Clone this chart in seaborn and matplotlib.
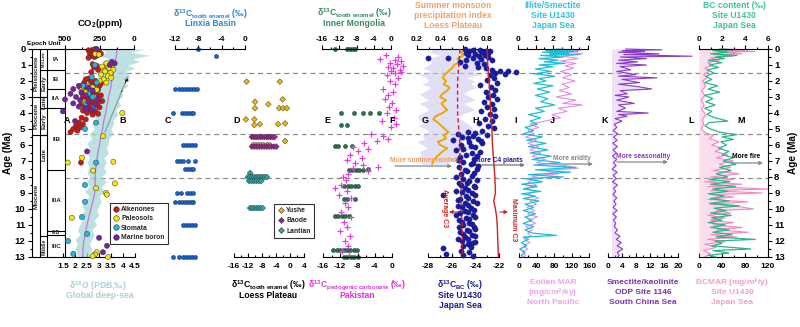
import numpy as np
import pandas as pd
import matplotlib
matplotlib.use('Agg')
import matplotlib.pyplot as plt
from matplotlib.lines import Line2D
import seaborn as sns

# ----------------------------------------------------------------- data
# Panel A: CO2 proxies (age Ma, CO2 ppm)
alkenones = [(0.0,280),(0.05,300),(0.08,330),(0.1,270),(0.15,320),(0.18,300),(0.2,250),(0.25,290),(0.28,320),
             (0.3,240),(0.35,310),(0.4,265),(0.45,300),(0.5,285),(0.55,330),(0.95,300),(1.05,270),(1.15,290),
             (1.3,260),(1.45,310),(1.85,330),(1.9,350),(2.0,280),(2.05,310),(2.1,360),(2.15,240),(2.2,300),
             (2.25,370),(2.3,250),(2.35,290),(2.4,390),(2.45,350),(2.5,330),(2.55,260),(2.6,280),(2.65,320),
             (2.7,350),(2.75,380),(2.8,300),(2.85,270),(2.9,240),(2.95,330),(3.0,370),(3.05,320),(3.1,280),
             (3.15,360),(3.2,340),(3.25,230),(3.3,300),(3.35,260),(3.4,380),(3.45,300),(3.5,320),(3.55,360),
             (3.6,290),(3.65,250),(3.7,350),(3.75,330),(3.8,310),(3.85,370),(3.9,280),(3.95,300),(4.0,340),
             (4.05,260),(4.1,300),(4.3,380),(4.4,350),(4.6,400),(4.7,370),(4.8,420),(4.9,390),(5.0,440),
             (5.1,410),(5.2,460),(7.1,384),(12.85,285)]
paleosols = [(0.3,280),(0.35,255),(0.9,200),(1.0,160),(1.1,230),(1.15,190),(1.2,180),(1.3,150),(1.35,215),
             (1.4,210),(1.5,170),(1.6,240),(1.7,190),(1.8,165),(1.9,220),(2.0,250),(2.1,200),(2.3,330),
             (2.4,300),(2.5,380),(2.55,270),(2.7,350),(3.0,290),(3.3,360),(4.0,85),(5.45,225),(6.8,377),
             (7.1,480),(7.05,150),(7.6,297),(8.4,138),(8.7,275),(9.0,203),(9.1,196),(10.55,450),(12.7,270),
             (12.85,283),(12.95,300),(13.0,188)]
stomata = [(1.0,283),(1.75,305),(2.1,270),(2.3,370),(2.6,310),(2.8,330),(3.0,300),(3.4,350),(3.6,290),
           (4.6,275),(5.0,355),(7.1,275),(8.5,355),(9.55,355),(10.5,377),(11.56,340),(12.0,478),(12.8,440)]
marine_boron = [(0.0,270),(0.8,160),(0.9,140),(1.0,175),(2.3,400),(2.4,330),(2.5,440),(2.6,300),(2.7,380),
                (2.8,460),(2.9,350),(3.0,420),(3.1,260),(3.15,500),(3.2,390),(3.3,330),(3.4,440),(3.5,280),
                (3.6,400),(3.7,350),(3.8,310),(3.9,515),(4.5,427),(6.4,340),(11.8,253),(12.3,196),(12.7,225)]

# Panel B: global deep-sea d18O (age, smoothed value)
d18o_line = [(0,3.75),(0.5,3.72),(1,3.64),(1.5,3.6),(2,3.53),(2.5,3.48),(3,3.4),(3.5,3.34),(4,3.28),(4.5,3.2),
             (5,3.15),(5.5,3.08),(6,3.02),(6.5,2.95),(7,2.91),(7.5,2.86),(8,2.84),(8.5,2.84),(9,2.82),
             (9.5,2.75),(10,2.66),(10.5,2.58),(11,2.5),(11.5,2.43),(12,2.37),(12.5,2.33),(13,2.32)]
# raw d18O envelope (age, low, high)
d18o_env = [(0.0,3.1,4.9),(0.2,3.3,4.3),(0.4,3.0,5.1),(0.6,3.4,4.4),(0.8,3.1,4.7),(1.0,3.3,4.2),(1.2,3.0,4.5),
            (1.4,3.3,4.1),(1.7,3.1,4.3),(2.0,3.2,4.0),(2.3,2.9,4.2),(2.6,3.1,3.9),(2.9,2.9,4.0),(3.2,3.0,3.8),
            (3.5,2.8,3.9),(3.8,2.9,3.7),(4.1,2.7,3.8),(4.4,2.9,3.6),(4.7,2.7,3.6),(5.0,2.8,3.5),(5.3,2.6,3.6),
            (5.6,2.7,3.4),(5.9,2.5,3.4),(6.2,2.6,3.3),(6.5,2.5,3.4),(6.8,2.6,3.2),(7.1,2.5,3.3),(7.4,2.6,3.2),
            (7.7,2.5,3.3),(8.0,2.6,3.1),(8.3,2.5,3.3),(8.6,2.6,3.1),(8.9,2.4,3.2),(9.2,2.6,3.0),(9.5,2.4,3.1),
            (9.8,2.3,3.0),(10.1,2.4,2.9),(10.4,2.2,3.0),(10.7,2.3,2.8),(11.0,2.2,2.9),(11.3,2.1,2.7),
            (11.6,2.2,2.8),(11.9,2.0,2.7),(12.2,2.1,2.6),(12.5,2.0,2.7),(12.8,2.1,2.6),(13.0,2.1,2.6)]

# Panel C: Linxia Basin tooth enamel d13C (age, value)
linxia = [(0.0,-8.1),(0.45,-5.0),
          (2.5,-12.0),(2.5,-11.4),(2.5,-10.8),(2.5,-10.3),(2.5,-9.8),(2.5,-9.3),(2.5,-8.8),(2.5,-8.3),
          (4.0,-12.3),(4.0,-10.8),(4.0,-10.3),(4.0,-9.8),(4.0,-9.3),(4.0,-8.9),
          (6.0,-10.6),(6.0,-10.1),(6.0,-9.6),(6.0,-9.1),(6.0,-8.6),
          (7.0,-11.7),(7.0,-11.2),(7.0,-10.7),(7.0,-9.7),(7.0,-8.6),
          (7.5,-10.3),(7.5,-9.8),(7.5,-9.3),(7.5,-8.9),
          (9.0,-11.7),(9.0,-11.0),(9.0,-10.0),(9.0,-9.5),(9.0,-9.0),
          (9.55,-12.0),(9.55,-11.4),(9.55,-10.8),(9.55,-10.3),(9.55,-9.8),(9.55,-9.3),(9.55,-8.9),
          (11.0,-10.6),(11.0,-10.1),(11.0,-9.6),(11.0,-9.1),(11.0,-8.6),
          (13.0,-12.3),(13.0,-11.3),(13.0,-10.6),(13.0,-10.1),(13.0,-9.6),(13.0,-9.1),(13.0,-8.6)]

# Panel D: Loess Plateau tooth enamel d13C (age, value)
yushe = [(2.04,-12.4),(2.04,-2.9),(3.15,-2.1),(3.3,-10.0),(3.7,-10.0),(3.45,-6.2),(3.7,-3.1),(3.7,-2.0),
         (3.7,-0.9),(4.4,-12.6),(4.4,-10.2),(4.75,-10.2),(4.7,-8.6),(4.7,-3.4),(4.65,-1.4),(5.75,-1.4),
         (6.0,-10.5),(6.0,-9.8),(6.0,-9.0),(6.0,-8.2),(6.0,-7.5),(6.0,-6.5),(6.0,-5.8)]
baode = [(5.5,-10.9),(5.5,-10.3),(5.5,-9.7),(5.5,-9.1),(5.5,-8.5),(5.5,-7.9),(5.5,-7.3),(5.5,-6.7),(5.5,-6.1),
         (5.5,-5.5),(5.5,-4.9),(5.5,-4.4),(6.1,-10.9),(6.1,-10.2),(6.1,-9.5),(6.1,-8.8),(6.1,-8.1),(6.1,-7.4),
         (6.1,-6.7),(6.1,-6.0),(6.1,-5.3),(6.1,-4.6),(6.1,-3.9)]
lantian = [(7.75,-11.4),(8.0,-12.0),(8.0,-11.4),(8.0,-10.8),(8.0,-10.2),(8.0,-9.6),(8.0,-9.0),(8.0,-8.4),
           (8.0,-7.8),(8.0,-7.2),(8.0,-6.6),(8.25,-11.7),(8.25,-11.0),(8.25,-10.3),(8.25,-9.6),(8.25,-8.9),
           (8.25,-8.2),(9.94,-11.4),(9.94,-10.8),(9.94,-10.2),(9.94,-9.6),(9.94,-9.0),(9.94,-8.4),(9.94,-7.8)]

# Panel E: Inner Mongolia tooth enamel d13C (age, value)
inner_mongolia = [(0.0,-13.0),(0.0,-10.2),(0.0,-9.5),(0.0,-8.9),(0.0,-8.3),
                  (4.0,-11.6),(4.0,-8.6),(4.0,-6.5),(4.0,-4.9),(4.0,-2.8),(4.75,-11.6),(4.75,-10.2),
                  (6.06,-13.0),(6.06,-12.2),(6.06,-10.7),(6.06,-9.0),
                  (7.56,-9.8),(7.56,-9.0),(7.56,-8.2),(7.56,-7.4),(7.56,-6.6),(7.5,-5.3),
                  (8.56,-10.8),(8.56,-10.0),(8.56,-9.2),(8.56,-8.4),(8.56,-7.6),
                  (9.35,-10.8),(9.35,-10.1),(9.35,-8.3),
                  (10.44,-13.0),(10.44,-12.2),(10.44,-11.4),(10.44,-10.6),(10.44,-9.7),
                  (12.56,-13.4),(12.56,-12.6),(12.56,-11.8),(12.56,-11.0),(12.56,-10.2),(12.56,-9.4),
                  (12.56,-8.6),(12.56,-8.0),(13.0,-10.9),(13.0,-10.1),(13.0,-9.3),(13.0,-8.5),(13.0,-7.6)]

# Panel F: Pakistan pedogenic carbonate d13C (age, value)
pakistan = [(0.4,-1.5),(0.5,1.5),(0.6,-2.8),(0.7,0.7),(0.75,2.0),(0.85,-0.5),(0.95,1.2),(1.05,2.6),(1.1,-0.9),
            (1.2,0.3),(1.3,1.8),(1.35,-0.2),(1.45,2.2),(1.5,0.8),(1.6,-1.2),(1.8,1.5),(2.0,-0.5),(2.2,0.6),
            (2.5,-2.0),(2.7,0.2),(2.9,-1.0),(3.1,-1.6),(3.4,0.1),(3.6,-0.6),(3.8,1.0),(4.0,-1.1),(4.3,0.4),
            (4.5,-2.4),(4.7,1.0),(4.9,-0.3),(5.3,-4.9),(5.45,-2.0),(5.6,-0.9),(5.75,-3.5),(5.9,-6.5),(6.1,-9.0),
            (6.25,-5.6),(6.4,-8.0),(6.6,-9.7),(6.8,-7.0),(6.95,-10.4),(7.1,-8.5),(7.25,-6.7),(7.35,-3.3),
            (7.45,-9.0),(7.6,-5.5),(7.8,-10.3),(8.0,-11.4),(8.2,-10.6),(8.5,-11.8),(8.7,-13.2),(8.9,-10.5),
            (9.1,-12.4),(9.3,-9.5),(9.6,-11.0),(9.9,-10.2),(10.2,-11.8),(10.5,-9.6),(10.8,-11.2),(11.1,-10.4),
            (11.4,-12.0),(11.7,-9.8),(12.0,-11.0),(12.3,-10.3),(12.6,-11.6),(12.9,-10.0)]

# Panel G: summer monsoon precipitation index (age, smoothed, raw low, raw high)
monsoon = [(0.0,0.62,0.35,0.85),(0.2,0.58,0.30,0.80),(0.4,0.60,0.40,0.88),(0.6,0.55,0.28,0.75),
           (0.8,0.57,0.33,0.82),(1.0,0.52,0.30,0.72),(1.2,0.50,0.25,0.78),(1.4,0.47,0.32,0.68),
           (1.6,0.44,0.22,0.74),(1.8,0.42,0.28,0.62),(2.0,0.45,0.30,0.70),(2.2,0.43,0.24,0.66),
           (2.4,0.48,0.32,0.72),(2.6,0.46,0.28,0.64),(2.8,0.42,0.22,0.60),(3.0,0.40,0.26,0.66),
           (3.2,0.45,0.30,0.70),(3.4,0.41,0.22,0.60),(3.6,0.43,0.27,0.65),(3.8,0.46,0.30,0.70),
           (4.0,0.42,0.25,0.62),(4.2,0.36,0.20,0.55),(4.4,0.34,0.22,0.58),(4.6,0.38,0.26,0.62),
           (4.8,0.41,0.21,0.66),(5.0,0.44,0.28,0.68),(5.2,0.47,0.30,0.70),(5.4,0.43,0.24,0.62),
           (5.6,0.45,0.27,0.66),(5.8,0.38,0.20,0.58),(6.0,0.40,0.25,0.62),(6.2,0.46,0.29,0.68),
           (6.4,0.42,0.22,0.60),(6.6,0.39,0.24,0.58),(6.8,0.36,0.20,0.55),(7.0,0.34,0.22,0.50),
           (7.2,0.33,0.25,0.45)]

# Panel H: black carbon d13C, Site U1430 (age, value)
bc_d13c = [(0.02,-24.9),(0.05,-24.2),(0.08,-23.6),(0.1,-23.1),(0.12,-22.8),(0.15,-24.5),(0.18,-23.4),(0.22,-22.9),
           (0.26,-24.8),(0.3,-24.0),(0.35,-23.2),(0.4,-24.6),(0.45,-23.7),(0.5,-22.9),(0.55,-24.2),(0.58,-28.0),
           (0.58,-26.3),(0.62,-23.5),(0.66,-22.6),(0.7,-24.8),(0.8,-25.3),(0.85,-23.9),(0.95,-23.3),(1.05,-24.9),
           (1.1,-23.8),(1.2,-23.1),(1.3,-22.6),(1.35,-21.9),(1.4,-21.2),(1.45,-20.6),(1.5,-22.3),(1.55,-21.5),
           (1.65,-22.8),(1.8,-22.4),(1.95,-23.0),(2.1,-22.2),(2.25,-23.6),(2.4,-22.7),(2.55,-22.3),(2.7,-23.1),
           (2.85,-22.5),(3.0,-22.9),(3.15,-22.2),(3.3,-23.3),(3.45,-22.6),(3.6,-23.0),(3.75,-22.4),(3.9,-23.5),
           (4.05,-22.8),(4.2,-22.3),(4.35,-23.2),(4.5,-22.6),(4.65,-23.7),(4.8,-22.9),(4.95,-22.4),(5.1,-23.4),
           (5.2,-24.6),(5.3,-25.5),(5.35,-23.0),(5.45,-24.2),(5.5,-25.1),(5.6,-23.8),(5.7,-25.9),(5.8,-24.5),
           (5.9,-23.4),(6.0,-25.2),(6.15,-24.0),(6.3,-25.6),(6.45,-23.6),(6.6,-24.8),(6.75,-25.3),(6.9,-24.1),
           (7.05,-25.0),(7.2,-24.4),(7.35,-25.4),(7.5,-23.9),(7.65,-24.7),(7.8,-25.2),(7.95,-24.3),(8.1,-25.0),
           (8.25,-24.5),(8.4,-25.4),(8.55,-24.1),(8.7,-24.9),(8.85,-25.6),(9.0,-24.3),(9.1,-26.7),(9.2,-24.8),
           (9.35,-25.3),(9.5,-24.2),(9.65,-24.9),(9.8,-25.5),(9.95,-24.4),(10.1,-24.9),(10.25,-25.3),(10.4,-24.2),
           (10.55,-24.8),(10.7,-25.4),(10.85,-24.5),(11.0,-25.0),(11.15,-24.1),(11.3,-24.7),(11.45,-25.3),
           (11.6,-24.3),(11.75,-24.9),(11.9,-25.5),(12.05,-24.0),(12.2,-24.6),(12.45,-26.7),(12.6,-25.2),
           (12.7,-24.5),(12.8,-26.5),(12.9,-25.0),(12.95,-24.2),
           (5.25,-24.0),(5.55,-24.6),(5.75,-23.5),(6.05,-24.4),(6.25,-25.0),(6.5,-24.3),(6.7,-23.9),(6.95,-25.5),
           (7.1,-24.2),(7.3,-23.8),(7.55,-24.9),(7.75,-24.1),(8.0,-25.6),(8.2,-23.9),(8.35,-24.7),(8.5,-25.2),
           (8.65,-24.0),(8.8,-24.6),(8.95,-25.1),(9.15,-24.0),(9.3,-24.6),(9.45,-25.5),(9.6,-23.9),(9.75,-24.6),
           (9.9,-25.1),(10.05,-24.1),(10.2,-24.6),(10.35,-25.6),(10.5,-24.0),(10.65,-24.5),(10.8,-25.1),
           (10.95,-24.3),(11.1,-25.4),(11.25,-24.0),(11.4,-24.5),(11.55,-25.0),(11.7,-24.0),(11.85,-24.6),
           (12.0,-25.1),(12.15,-24.3),(12.3,-25.0),(12.35,-24.4)]
average_c3 = [(0,-25.3),(1,-25.4),(2,-25.5),(3,-25.5),(4,-25.5),(5,-25.4),(6,-25.3),(7,-25.3),(8,-25.2),
              (9,-25.2),(10,-25.2),(11,-25.1),(12,-25.1),(13,-25.1)]
maximum_c3 = [(0,-23.0),(1,-22.95),(2,-22.85),(3,-22.75),(4,-22.7),(5,-22.6),(6,-22.55),(7,-22.45),(8,-22.35),
              (9,-22.3),(9.5,-22.45),(10,-22.3),(10.5,-22.2),(11,-22.15),(12,-22.1),(13,-22.05)]

# Panel I: illite/smectite, Site U1430 (age, ratio)
illite_smectite = [(0.0,2.2),(0.05,3.2),(0.1,1.6),(0.15,3.4),(0.2,1.4),(0.25,2.9),(0.3,1.8),(0.35,3.5),(0.4,1.3),
                   (0.5,2.6),(0.6,1.2),(0.7,2.3),(0.8,1.5),(0.9,2.7),(1.0,1.2),(1.1,2.0),(1.25,1.0),(1.4,1.9),
                   (1.55,0.9),(1.7,2.1),(1.85,1.2),(2.0,1.6),(2.15,0.9),(2.3,2.0),(2.5,1.1),(2.7,1.8),(2.9,1.0),
                   (3.1,1.7),(3.3,1.3),(3.5,2.1),(3.7,1.0),(3.9,1.5),(4.1,0.6),(4.3,1.3),(4.5,0.7),(4.7,1.1),
                   (4.9,0.4),(5.1,0.9),(5.3,0.3),(5.5,1.4),(5.7,0.5),(5.9,1.6),(6.1,0.6),(6.3,1.7),(6.5,0.7),
                   (6.7,1.9),(6.9,0.8),(7.1,2.4),(7.25,0.9),(7.4,3.3),(7.55,1.0),(7.7,3.0),(7.85,0.6),(8.0,2.6),
                   (8.1,0.4),(8.3,1.4),(8.45,0.2),(8.6,1.1),(8.75,0.3),(8.9,1.3),(9.05,0.2),(9.2,1.0),(9.35,0.3),
                   (9.5,1.2),(9.7,0.4),(9.9,0.9),(10.1,0.3),(10.3,1.0),(10.5,0.4),(10.7,0.8),(10.9,0.3),(11.1,0.9),
                   (11.3,0.4),(11.5,0.8),(11.65,2.2),(11.75,0.3),(11.9,0.6),(12.1,0.2),(12.3,0.5),(12.5,0.1),
                   (12.7,0.4),(12.9,0.2),(13.0,0.3)]

# Panel J: eolian MAR, North Pacific (age, mg/cm2/ky)
eolian_mar = [(0.0,120),(0.1,140),(0.2,110),(0.3,145),(0.45,100),(0.6,135),(0.75,95),(0.9,130),(1.05,105),
              (1.2,125),(1.4,95),(1.6,120),(1.8,100),(2.0,128),(2.2,98),(2.4,115),(2.6,92),(2.8,120),(3.0,85),
              (3.2,130),(3.4,100),(3.5,145),(3.7,90),(3.9,110),(4.1,75),(4.3,95),(4.5,60),(4.7,25),(4.9,45),
              (5.1,20),(5.3,35),(5.5,15),(5.7,40),(5.9,20),(6.1,45),(6.3,25),(6.5,50),(6.7,30),(6.9,60),(7.1,40),
              (7.3,110),(7.45,135),(7.6,60),(7.8,90),(7.95,30),(8.1,45),(8.3,20),(8.5,40),(8.7,15),(8.9,35),
              (9.1,20),(9.3,45),(9.5,25),(9.7,40),(9.9,18),(10.1,35),(10.3,20),(10.5,42),(10.7,22),(10.9,38),
              (11.1,15),(11.3,30),(11.5,20),(11.7,28),(11.9,12),(12.1,25),(12.3,10),(12.5,20),(12.7,8),
              (12.9,15),(13.0,12)]

# Panel K: smectite/kaolinite, ODP 1146 (age, ratio)
smectite_kaolinite = [(0.0,5.0),(0.05,15.4),(0.1,4.0),(0.15,10.5),(0.2,3.0),(0.3,14.6),(0.35,4.5),(0.45,24.0),
                      (0.5,3.5),(0.6,11.0),(0.7,3.0),(0.8,8.5),(0.9,2.5),(1.0,11.0),(1.1,3.5),(1.3,6.5),(1.4,2.5),
                      (1.6,8.0),(1.7,3.0),(1.8,14.0),(1.9,4.0),(2.1,9.0),(2.2,3.0),(2.35,8.5),(2.5,12.5),(2.6,3.5),
                      (2.8,5.5),(2.9,2.0),(3.0,6.0),(3.2,2.5),(3.4,7.5),(3.5,3.0),(3.7,5.0),(3.9,2.5),(4.0,11.5),
                      (4.1,3.0),(4.2,5.5),(4.35,2.0),(4.5,4.0),(4.7,1.8),(4.9,2.5),(5.1,1.5),(5.3,2.8),(5.5,1.6),
                      (5.7,2.6),(5.9,1.4),(6.1,2.7),(6.3,1.5),(6.5,2.4),(6.7,1.3),(6.9,2.5),(7.1,1.6),(7.3,2.3),
                      (7.5,1.2),(7.7,2.6),(7.9,1.5),(8.1,2.4),(8.3,1.3),(8.5,2.7),(8.7,1.6),(8.9,2.2),(9.1,1.4),
                      (9.3,2.5),(9.5,1.7),(9.7,2.3),(9.9,1.5),(10.1,2.6),(10.3,1.4),(10.5,2.4),(10.7,1.6),
                      (10.9,2.2),(11.1,1.8),(11.3,2.7),(11.5,2.0),(11.7,3.4),(11.9,2.4),(12.1,3.8),(12.3,2.6),
                      (12.5,4.2),(12.7,2.7),(12.9,3.2),(13.0,2.8)]

# Panel L: BC content, Site U1430 (age, permil)
bc_content = [(0.0,1.8),(0.05,2.9),(0.1,1.2),(0.2,2.5),(0.3,1.0),(0.4,3.3),(0.5,1.4),(0.6,2.2),(0.7,0.8),
              (0.85,2.0),(1.0,0.9),(1.15,1.7),(1.3,0.7),(1.5,1.3),(1.7,0.6),(1.9,1.1),(2.1,0.5),(2.3,1.6),
              (2.5,0.8),(2.7,1.8),(2.9,0.5),(3.1,1.2),(3.3,0.6),(3.5,1.4),(3.7,0.5),(3.9,1.1),(4.1,0.7),
              (4.3,1.4),(4.5,2.5),(4.6,0.9),(4.8,0.5),(5.0,1.0),(5.2,1.8),(5.35,3.3),(5.5,2.0),(5.65,3.0),
              (5.8,1.9),(6.0,2.4),(6.2,1.7),(6.4,2.6),(6.6,2.0),(6.8,3.0),(7.0,2.1),(7.2,3.2),(7.4,1.8),
              (7.6,2.8),(7.8,1.5),(8.0,2.5),(8.15,0.9),(8.3,2.7),(8.45,1.0),(8.6,3.2),(8.75,1.2),(8.9,2.5),
              (9.05,0.8),(9.2,2.2),(9.35,1.0),(9.5,2.6),(9.65,0.9),(9.8,3.5),(9.95,1.3),(10.1,2.4),(10.25,1.0),
              (10.4,2.8),(10.55,1.1),(10.7,2.0),(10.85,0.8),(11.0,2.3),(11.15,1.0),(11.3,2.6),(11.45,1.2),
              (11.6,2.9),(11.75,1.5),(11.9,4.9),(12.0,1.4),(12.15,2.0),(12.3,1.1),(12.5,4.5),(12.6,1.2),
              (12.75,2.6),(12.9,0.8),(13.0,1.5)]

# Panel M: BC mass accumulation rate, Site U1430 (age, mg/m2/y)
bcmar = [(0.0,40),(0.05,85),(0.1,30),(0.15,97),(0.2,45),(0.3,75),(0.35,25),(0.45,60),(0.55,20),(0.7,35),
         (0.85,15),(1.0,25),(1.2,10),(1.4,18),(1.6,8),(1.8,14),(2.0,6),(2.3,12),(2.6,5),(2.9,10),(3.2,4),
         (3.5,9),(3.8,5),(4.1,12),(4.4,6),(4.7,8),(5.0,4),(5.2,10),(5.4,25),(5.6,18),(5.8,35),(6.0,22),
         (6.2,40),(6.4,28),(6.6,50),(6.8,30),(7.0,60),(7.2,35),(7.4,55),(7.6,25),(7.8,70),(8.0,20),(8.15,60),
         (8.3,10),(8.45,75),(8.6,15),(8.75,120),(8.85,20),(9.0,110),(9.1,25),(9.25,60),(9.4,15),(9.55,85),
         (9.7,20),(9.85,70),(10.0,95),(10.1,30),(10.25,55),(10.4,15),(10.55,45),(10.7,20),(10.85,60),
         (11.0,25),(11.15,75),(11.3,30),(11.45,85),(11.6,20),(11.75,65),(11.9,15),(12.05,45),(12.2,10),
         (12.4,30),(12.6,8),(12.8,20),(13.0,10)]

# Stratigraphy
age_ticks = [0, 1, 2, 3, 4, 5, 6, 7, 8, 9, 10, 11, 12, 13]
boundary_ages = [1.5, 5.33, 8.05]
epochs = [("Pleistocene", 0.0, 3.0), ("Pliocene", 3.0, 5.37), ("Miocene", 5.37, 13.0)]
subepochs = [("Mid-Late", 0.0, 1.3), ("Early", 1.3, 3.0), ("Late", 3.0, 3.7), ("Early", 3.7, 5.37),
             ("Late", 5.37, 11.67), ("Middle", 11.67, 13.0)]
units = [("IA", 0.0, 1.3), ("IB", 1.3, 2.5), ("IIA", 2.5, 3.7), ("IIB", 3.7, 7.56), ("IIIA", 7.56, 11.35),
         ("IIIB", 11.35, 11.65), ("IIIC", 11.65, 13.0)]

# ----------------------------------------------------------------- style
sns.set_theme(style='white')
plt.rcParams.update({
    'font.family': ['Liberation Sans', 'DejaVu Sans'],
    'font.weight': 'bold',
    'axes.unicode_minus': False,
    'mathtext.fontset': 'custom',
    'mathtext.rm': 'Liberation Sans:bold',
    'mathtext.it': 'Liberation Sans:bold:italic',
    'mathtext.bf': 'Liberation Sans:bold',
    'mathtext.default': 'rm',
    'axes.edgecolor': 'black',
    'axes.linewidth': 0.8,
    'xtick.color': 'black',
    'ytick.color': 'black',
})

W, H = 800, 327
TOP, BOT = 49, 257
fig = plt.figure(figsize=(8, 3.27), dpi=100)


def panel(x0, x1):
    ax = fig.add_axes([x0 / W, 1 - BOT / H, (x1 - x0) / W, (BOT - TOP) / H])
    ax.set_ylim(13, 0)
    ax.patch.set_alpha(0)
    ax.grid(False)
    for s in ax.spines.values():
        s.set_visible(False)
    ax.tick_params(axis='both', which='both', left=False, right=False, top=False, bottom=False,
                   labelleft=False, labelright=False, labeltop=False, labelbottom=False)
    return ax


def finish(ax):
    ax.set_xlabel('')
    ax.set_ylabel('')
    ax.set_ylim(13, 0)


def top_axis(ax, lim, major, minor, labels=None):
    ax.set_xlim(*lim)
    ax.spines['top'].set_visible(True)
    ax.set_xticks(major)
    if labels is not None:
        ax.set_xticklabels(labels)
    ax.set_xticks(minor, minor=True)
    ax.tick_params(axis='x', which='both', top=True, labeltop=True, bottom=False, labelbottom=False,
                   direction='out', labelsize=6, pad=1.2, width=0.8, colors='black')
    ax.tick_params(axis='x', which='major', length=3.2)
    ax.tick_params(axis='x', which='minor', length=1.8)


def bottom_axis(ax, lim, major, minor, labels=None):
    ax.set_xlim(*lim)
    ax.spines['bottom'].set_visible(True)
    ax.set_xticks(major)
    if labels is not None:
        ax.set_xticklabels(labels)
    ax.set_xticks(minor, minor=True)
    ax.tick_params(axis='x', which='both', bottom=True, labelbottom=True, top=False, labeltop=False,
                   direction='in', labelsize=6, pad=4.5, width=0.8, colors='black')
    ax.tick_params(axis='x', which='major', length=3.2)
    ax.tick_params(axis='x', which='minor', length=1.8)


def ftext(x, y, s, size=6.2, color='black', rot=0, ha='center', va='center'):
    fig.text(x / W, 1 - y / H, s, fontsize=size, color=color, rotation=rot, ha=ha, va=va,
             fontweight='bold')


def arrow(x1, x2, y, color='#888888', lw=0.9):
    ax_bg.annotate('', xy=(x2, H - y), xytext=(x1, H - y), xycoords='figure pixels',
                   textcoords='figure pixels', annotation_clip=False,
                   arrowprops=dict(arrowstyle='-|>', color=color, lw=lw, mutation_scale=5,
                                   shrinkA=0, shrinkB=0))


def cols(pts):
    return [p[0] for p in pts], [p[1] for p in pts]


# ---------------------------------------------------------- background
ax_bg = panel(65, 768)
ax_bg.set_xlim(0, 1)
for b in boundary_ages:
    ax_bg.axhline(b, color='#8a8a8a', lw=0.9, ls=(0, (4, 3)), zorder=0)

# ---------------------------------------------------------- epoch column
ax_ep = panel(31.7, 65)
ax_ep.set_xlim(0, 1)
ax_ep.spines['left'].set_visible(True)
ax_ep.set_yticks(age_ticks)
ax_ep.set_yticks([t + 0.5 for t in age_ticks[:-1]], minor=True)
ax_ep.tick_params(axis='y', which='both', left=True, labelleft=True, direction='out',
                  labelsize=6.8, pad=1.5, width=0.8, colors='black')
ax_ep.tick_params(axis='y', which='major', length=3)
ax_ep.tick_params(axis='y', which='minor', length=1.8)
c1, c2 = 0.249, 0.468
lk = dict(color='black', lw=0.8, clip_on=False)
for xv in (c1, c2, 1.0):
    ax_ep.plot([xv, xv], [0, 13], **lk)
ax_ep.plot([0, 1], [0, 0], **lk)
ax_ep.plot([0, 1], [13, 13], **lk)
for name, a0, a1 in epochs:
    if a1 < 13:
        ax_ep.plot([0, c2], [a1, a1], **lk)
    ax_ep.text(c1 / 2, (a0 + a1) / 2, name, rotation=90, ha='center', va='center', fontsize=4.6,
               fontweight='bold')
for name, a0, a1 in subepochs:
    if a1 < 13:
        ax_ep.plot([c1, c2], [a1, a1], **lk)
    yy = (a0 + a1) / 2 if name != 'Late' or a1 - a0 < 2 else a0 + 1.2
    ax_ep.text((c1 + c2) / 2, yy, name, rotation=90, ha='center', va='center',
               fontsize=2.8 if name == 'Mid-Late' else (3.6 if name == 'Middle' else 4.6), fontweight='bold')
for name, a0, a1 in units:
    if a1 < 13:
        ax_ep.plot([c2, 1], [a1, a1], **lk)
    ax_ep.text((c2 + 1) / 2, (a0 + a1) / 2, name, ha='center',
               va='center', fontsize=3.8 if name == 'IIIB' else 4.6, fontweight='bold')

# ---------------------------------------------------------- panel A/B
ax_b = panel(63, 135)
env = pd.DataFrame(d18o_env, columns=['age', 'lo', 'hi'])
ax_b.fill_betweenx(env['age'], env['lo'], env['hi'], color='#a9d6d8', alpha=0.75, lw=0, clip_on=False)
dl = pd.DataFrame(d18o_line, columns=['age', 'v'])
sns.lineplot(data=dl, x='v', y='age', orient='y', sort=False, estimator=None, ax=ax_b,
             color='#b77fd8', lw=0.9, clip_on=False)
bottom_axis(ax_b, (1.5, 4.5), [1.5, 2, 2.5, 3, 3.5, 4, 4.5], [],
            ['1.5', '2', '2.5', '3', '3.5', '4', '4.5'])
finish(ax_b)

ax_a = panel(65, 134)
co2_frames = []
for nm, pts in [('Alkenones', alkenones), ('Paleosols', paleosols), ('Stomata', stomata),
                ('Marine boron', marine_boron)]:
    a, v = cols(pts)
    co2_frames.append(pd.DataFrame({'age': a, 'ppm': v, 'proxy': nm}))
co2 = pd.concat(co2_frames, ignore_index=True)
co2_pal = {'Alkenones': '#d01515', 'Paleosols': '#f3e80a', 'Stomata': '#22b8dc', 'Marine boron': '#7b1ea6'}
sns.scatterplot(data=co2, x='ppm', y='age', hue='proxy', palette=co2_pal, ax=ax_a, s=14,
                edgecolor='#3a3a3a', linewidth=0.35, legend=False, clip_on=False, zorder=3)
top_axis(ax_a, (500, 0), [500, 250, 0], [375, 125])
finish(ax_a)
handles = [Line2D([], [], ls='', marker='o', markersize=4, markerfacecolor=c, markeredgecolor='#333333',
                  markeredgewidth=0.4) for c in co2_pal.values()]
leg1 = ax_a.legend(handles, list(co2_pal.keys()), loc='upper left', bbox_to_anchor=(110 / W, 1 - 203 / H),
                   bbox_transform=fig.transFigure, fontsize=4.9, frameon=True, fancybox=False,
                   edgecolor='black', handletextpad=0.2, borderpad=0.45, labelspacing=0.35,
                   handlelength=1.0, borderaxespad=0)
leg1.get_frame().set_linewidth(0.8)
for t in leg1.get_texts():
    t.set_fontweight('bold')

# ---------------------------------------------------------- panel C (Linxia)
ax_c = panel(175, 245)
a, v = cols(linxia)
sns.scatterplot(x=v, y=a, ax=ax_c, color='#1f5fbf', s=9, edgecolor='#0d2f6e', linewidth=0.3,
                legend=False, clip_on=False)
top_axis(ax_c, (-12, 0), [-12, -8, -4, 0], [-10, -6, -2])
finish(ax_c)

# ---------------------------------------------------------- panel D (Loess Plateau)
ax_d = panel(234, 304)
lp_frames = []
for nm, pts in [('Yushe', yushe), ('Baode', baode), ('Lantian', lantian)]:
    a, v = cols(pts)
    lp_frames.append(pd.DataFrame({'age': a, 'v': v, 'site': nm}))
lp = pd.concat(lp_frames, ignore_index=True)
lp_pal = {'Yushe': '#e8b70a', 'Baode': '#a0209a', 'Lantian': '#2aa6a6'}
sns.scatterplot(data=lp, x='v', y='age', hue='site', palette=lp_pal, ax=ax_d, marker='D', s=9,
                edgecolor='#333333', linewidth=0.3, legend=False, clip_on=False)
bottom_axis(ax_d, (-16, 4), [-16, -12, -8, -4, 0, 4], [-14, -10, -6, -2, 2])
finish(ax_d)
handles2 = [Line2D([], [], ls='', marker='D', markersize=3, markerfacecolor=c, markeredgecolor='#333333',
                   markeredgewidth=0.4) for c in lp_pal.values()]
leg2 = ax_d.legend(handles2, list(lp_pal.keys()), loc='upper left', bbox_to_anchor=(274 / W, 1 - 204 / H),
                   bbox_transform=fig.transFigure, fontsize=4.9, frameon=True, fancybox=False,
                   edgecolor='black', handletextpad=0.3, borderpad=0.5, labelspacing=0.45,
                   handlelength=1.0, borderaxespad=0)
leg2.get_frame().set_linewidth(0.8)

# ---------------------------------------------------------- panel E (Inner Mongolia)
ax_e = panel(322, 391)
a, v = cols(inner_mongolia)
sns.scatterplot(x=v, y=a, ax=ax_e, color='#2f7050', s=9, edgecolor='#123d26', linewidth=0.3,
                legend=False, clip_on=False)
top_axis(ax_e, (-16, 0), [-16, -12, -8, -4, 0], [-14, -10, -6, -2])
finish(ax_e)

# ---------------------------------------------------------- panel F (Pakistan)
ax_f = panel(323, 392)
a, v = cols(pakistan)
sns.scatterplot(x=v, y=a, ax=ax_f, color='#e040e0', marker='+', s=18, linewidth=0.9, legend=False,
                clip_on=False)
bottom_axis(ax_f, (-16, 0), [-16, -12, -8, -4, 0], [-14, -10, -6, -2])
finish(ax_f)

# ---------------------------------------------------------- panel G (monsoon)
ax_g = panel(417, 489)
mo = pd.DataFrame(monsoon, columns=['age', 'v', 'lo', 'hi'])
ax_g.fill_betweenx(mo['age'], mo['lo'], mo['hi'], color='#cdcbf0', alpha=0.6, lw=0, zorder=1)
sns.lineplot(x=mo['v'].tolist(), y=mo['age'].tolist(), orient='y', sort=False, estimator=None, ax=ax_g,
             color='#eaa800', lw=1.4, zorder=5)
top_axis(ax_g, (0.2, 0.82), [0.2, 0.4, 0.6, 0.8], [0.3, 0.5, 0.7])
finish(ax_g)

# ---------------------------------------------------------- panel H (BC d13C)
ax_h = panel(428, 499)
a, v = cols(bc_d13c)
sns.scatterplot(x=v, y=a, ax=ax_h, color='#1b1b9e', s=15, edgecolor='#10106a', linewidth=0.2,
                legend=False, clip_on=False, zorder=3)
a, v = cols(average_c3)
sns.lineplot(x=v, y=a, orient='y', sort=False, estimator=None, ax=ax_h, color='#cc2222', lw=1.0,
             ls=(0, (3, 2)), zorder=4)
a, v = cols(maximum_c3)
sns.lineplot(x=v, y=a, orient='y', sort=False, estimator=None, ax=ax_h, color='#cc2222', lw=1.0, zorder=4)
bottom_axis(ax_h, (-28, -22), [-28, -26, -24, -22], [-27, -25, -23])
finish(ax_h)

# ---------------------------------------------------------- panel I/J
ax_j = panel(519, 589)
a, v = cols(eolian_mar)
sns.lineplot(x=v, y=a, orient='y', sort=False, estimator=None, ax=ax_j, color='#e48ce4', lw=0.8,
             clip_on=False)
bottom_axis(ax_j, (0, 160), [0, 40, 80, 120, 160], [20, 60, 100, 140])
finish(ax_j)

ax_i = panel(518, 588)
a, v = cols(illite_smectite)
sns.lineplot(x=v, y=a, orient='y', sort=False, estimator=None, ax=ax_i, color='#22bcd8', lw=0.9,
             clip_on=False)
top_axis(ax_i, (0, 4), [0, 1, 2, 3, 4], [0.5, 1.5, 2.5, 3.5])
finish(ax_i)

# ---------------------------------------------------------- panel K
ax_k = panel(608, 678)
sk = pd.DataFrame(smectite_kaolinite, columns=['age', 'v'])
ax_k.fill_betweenx(sk['age'], 1.0, sk['v'], color='#d2b2ec', alpha=0.4, lw=0, clip_on=False)
sns.lineplot(data=sk, x='v', y='age', orient='y', sort=False, estimator=None, ax=ax_k, color='#8a3cc6',
             lw=0.8, clip_on=False)
bottom_axis(ax_k, (0, 20), [0, 4, 8, 12, 16, 20], [2, 6, 10, 14, 18])
finish(ax_k)

# ---------------------------------------------------------- panel L/M
ax_m = panel(699, 768)
bm = pd.DataFrame(bcmar, columns=['age', 'v'])
ax_m.fill_betweenx(bm['age'], 0, bm['v'], color='#f6b6d8', alpha=0.45, lw=0)
sns.lineplot(data=bm, x='v', y='age', orient='y', sort=False, estimator=None, ax=ax_m, color='#f08ac4',
             lw=0.8, clip_on=False)
bottom_axis(ax_m, (0, 120), [0, 40, 80, 120], [20, 60, 100])
finish(ax_m)

ax_l = panel(699, 768)
a, v = cols(bc_content)
sns.lineplot(x=v, y=a, orient='y', sort=False, estimator=None, ax=ax_l, color='#2fb488', lw=0.9,
             clip_on=False)
top_axis(ax_l, (0, 6), [0, 2, 4, 6], [1, 3, 5])
finish(ax_l)

# right age axis
ax_r = panel(699, 768)
ax_r.spines['right'].set_visible(True)
ax_r.set_yticks(age_ticks)
ax_r.set_yticks([t + 0.5 for t in age_ticks[:-1]], minor=True)
ax_r.tick_params(axis='y', which='both', right=True, labelright=True, direction='out',
                 labelsize=6.8, pad=1.5, width=0.8, colors='black')
ax_r.tick_params(axis='y', which='major', length=3)
ax_r.tick_params(axis='y', which='minor', length=1.8)

# ---------------------------------------------------------- text
ftext(8, 153, 'Age (Ma)', size=7.2, rot=90)
ftext(793, 153, 'Age (Ma)', size=7.2, rot=90)
ftext(100, 24, r'CO$_2$(ppm)', size=6.8)
ftext(44, 44, 'Epoch Unit', size=4.6)

blue = '#2b86d2'
ftext(210, 14, r'δ$^{13}$C$_{\mathregular{tooth\ enamel}}$ (‰)', size=6.2, color=blue)
ftext(210, 24, 'Linxia Basin', size=6.2, color=blue)
green = '#358a5e'
ftext(354, 13, r'δ$^{13}$C$_{\mathregular{tooth\ enamel}}$ (‰)', size=6.2, color=green)
ftext(354, 24, 'Inner Mongolia', size=6.2, color=green)
orange = '#eda36e'
ftext(453, 5, 'Summer monsoon', size=6.2, color=orange)
ftext(453, 15, 'precipitation index', size=6.2, color=orange)
ftext(453, 25, 'Loess Plateau', size=6.2, color=orange)
cyan = '#33c3dc'
ftext(553, 5, 'Illite/Smectite', size=6.2, color=cyan)
ftext(553, 15, 'Site U1430', size=6.2, color=cyan)
ftext(553, 25, 'Japan Sea', size=6.2, color=cyan)
teal = '#3cc39a'
ftext(734, 5, 'BC content (‰)', size=6.2, color=teal)
ftext(734, 15, 'Site U1430', size=6.2, color=teal)
ftext(734, 25, 'Japan Sea', size=6.2, color=teal)

ltl = '#a6d2d6'
ftext(98, 286, r'δ$^{18}$O (PDB,‰)', size=6.2, color=ltl)
ftext(100, 296, 'Global deep-sea', size=6.2, color=ltl)
ftext(268, 285, r'δ$^{13}$C$_{\mathregular{tooth\ enamel}}$ (‰)', size=6.2)
ftext(268, 296, 'Loess Plateau', size=6.2)
mag = '#e030d8'
ftext(357, 285, r'δ$^{13}$C$_{\mathregular{pedogenic\ carbonate}}$ (‰)', size=6.2, color=mag)
ftext(357, 296, 'Pakistan', size=6.2, color=mag)
navy = '#1c1c90'
ftext(460, 285, r'δ$^{13}$C$_{\mathregular{BC}}$ (‰)', size=6.2, color=navy)
ftext(460, 295, 'Site U1430', size=6.2, color=navy)
ftext(460, 305, 'Japan Sea', size=6.2, color=navy)
vio = '#eea2ee'
ftext(553, 283, 'Eolian MAR', size=6.0, color=vio)
ftext(553, 293, r'(mg/cm$^2$/ky)', size=6.0, color=vio)
ftext(553, 303, 'North Pacific', size=6.0, color=vio)
pur = '#7a35aa'
ftext(643, 283, 'Smectite/kaolinite', size=6.0, color=pur)
ftext(643, 293, 'ODP Site 1146', size=6.0, color=pur)
ftext(643, 303, 'South China Sea', size=6.0, color=pur)
pnk = '#f0a0cc'
ftext(732, 283, r'BCMAR (mg/m$^2$/y)', size=6.0, color=pnk)
ftext(732, 293, 'Site U1430', size=6.0, color=pnk)
ftext(732, 303, 'Japan Sea', size=6.0, color=pnk)

for lab, x in [('A', 67), ('B', 123), ('C', 168), ('D', 237), ('E', 327), ('F', 392), ('G', 425),
               ('H', 476), ('I', 516), ('J', 552), ('K', 605), ('L', 691), ('M', 741)]:
    ftext(x, 121, lab, size=6.5)

# annotations
ax_bg.annotate('', xy=(128, H - 76), xytext=(105, H - 132), xycoords='figure pixels',
               textcoords='figure pixels', annotation_clip=False,
               arrowprops=dict(arrowstyle='-|>', color='#111111', lw=0.9, mutation_scale=6,
                               shrinkA=0, shrinkB=0))
ftext(424, 161, 'More summer rainfall', size=4.8, color='#f0a060')
arrow(395, 452, 166)
ftext(499, 160, 'More C4 plants', size=4.8, color='#1c1c90')
arrow(474, 525, 165, color='#777777')
ftext(572, 159, 'More aridity', size=4.8, color='#8a8a8a')
arrow(553, 593, 164)
ftext(643, 157, 'More seasonality', size=4.8, color='#8a3cc6')
arrow(617, 668, 162)
ftext(746, 157, 'More fire', size=4.8)
arrow(731, 763, 163)
ftext(444, 208, 'Average C3', size=5, color='#cc2222', rot=270)
arrow(463, 449, 212, color='#cc2222', lw=0.8)
ftext(513, 220, 'Maximum C3', size=5, color='#cc2222', rot=270)
arrow(500, 508, 212, color='#cc2222', lw=0.8)

fig.savefig('out.png', dpi=100)
